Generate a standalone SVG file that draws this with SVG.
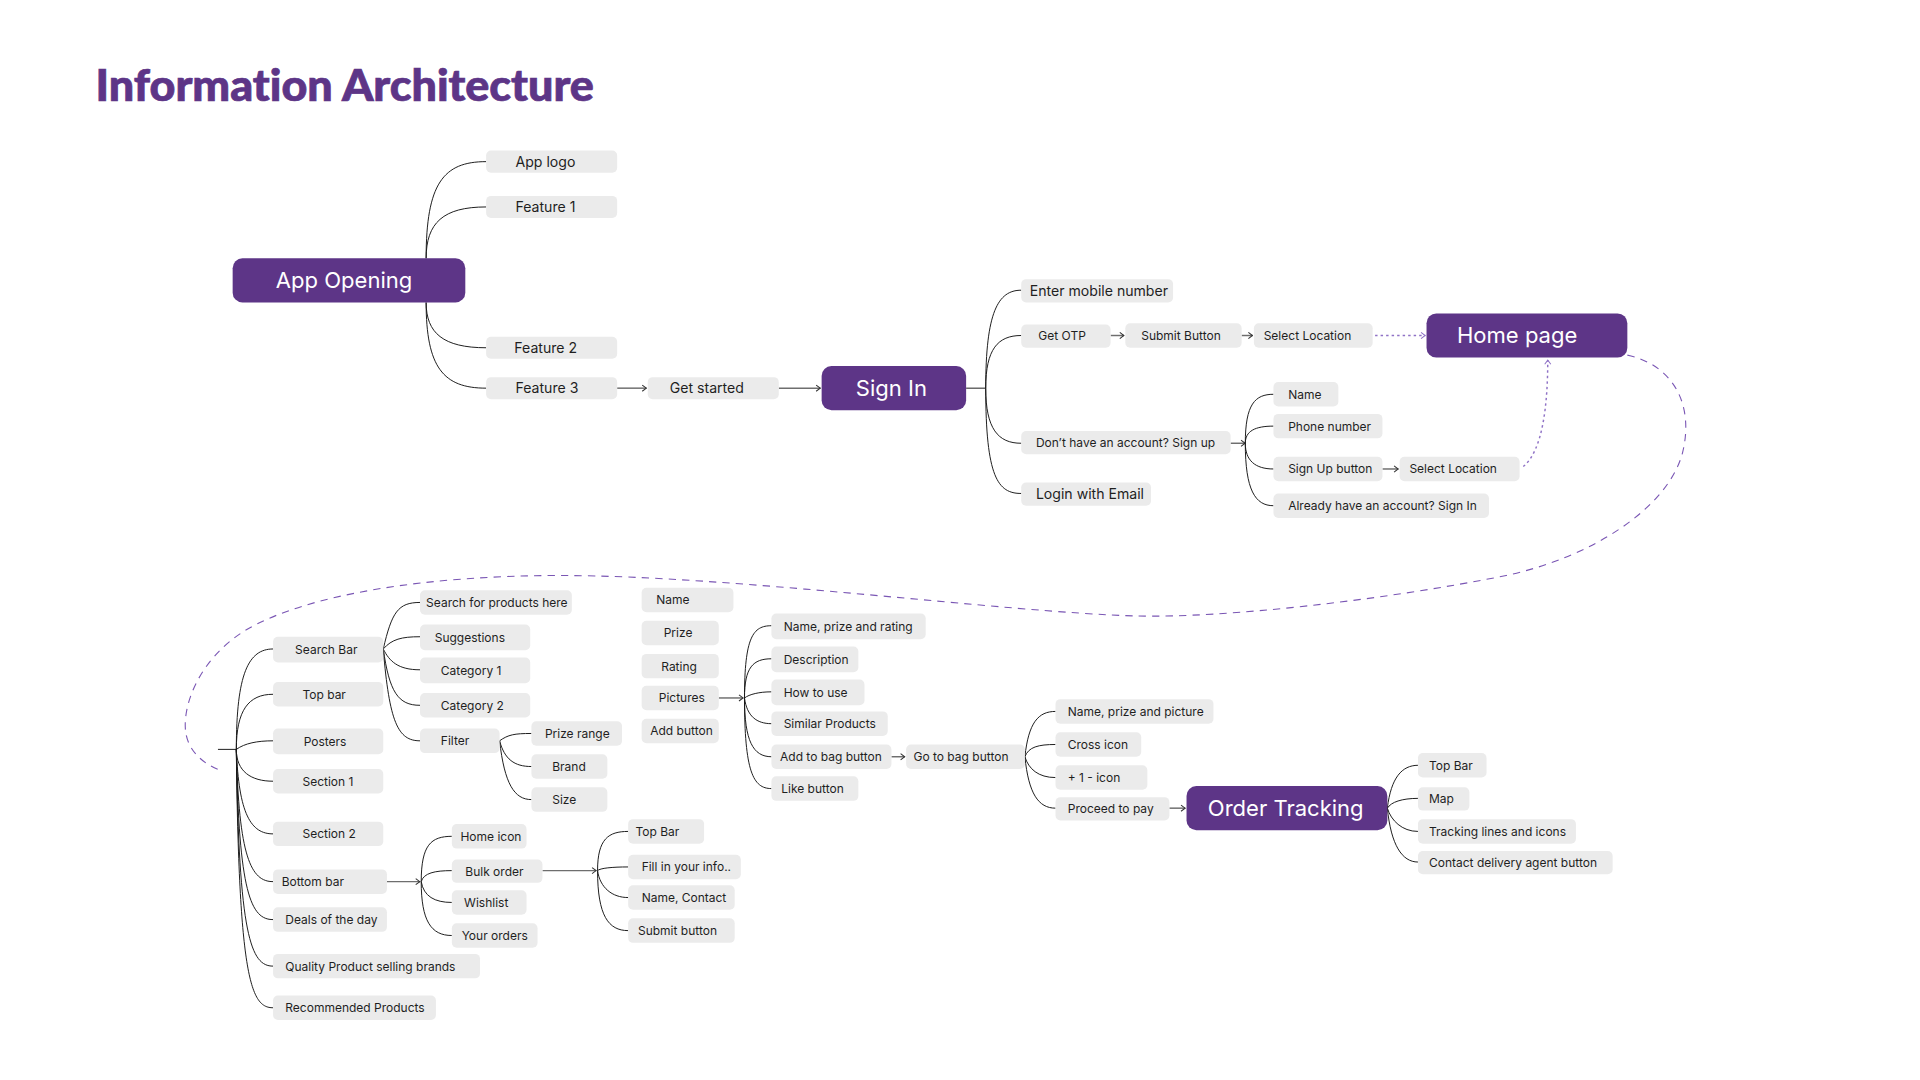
<svg xmlns="http://www.w3.org/2000/svg" width="1920" height="1080" viewBox="0 0 1920 1080">
<defs>
<style>
.n{fill:#ebebeb}
.m{fill:#5d3587}
.t{font-family:Inter,"Liberation Sans",sans-serif;font-size:9.8px;fill:#1f1f1f}
.l{font-size:11.5px}
.mt{font-family:Inter,"Liberation Sans",sans-serif;font-size:18px;fill:#ffffff;text-anchor:middle}
.c{fill:none;stroke:#1a1a1a;stroke-width:0.8}
.a{fill:none;stroke:#6e6e6e;stroke-width:1.2;marker-end:url(#ah)}
.d{fill:none;stroke:#8f72c6;stroke-width:1.2;stroke-dasharray:2 2.5;marker-end:url(#ph)}
.dd{fill:none;stroke:#7a56b4;stroke-width:0.9;stroke-dasharray:6 5}
</style>
<marker id="ah" viewBox="0 0 6 8" markerUnits="userSpaceOnUse" markerWidth="5" markerHeight="7" refX="5.2" refY="4" orient="auto">
<path d="M1,1 L5,4 L1,7" fill="none" stroke="#333" stroke-width="1"/>
</marker>
<marker id="ph" viewBox="0 0 6 8" markerUnits="userSpaceOnUse" markerWidth="5" markerHeight="7" refX="5.2" refY="4" orient="auto">
<path d="M1,1 L5,4 L1,7" fill="none" stroke="#8f72c6" stroke-width="1"/>
</marker>
</defs>
<rect width="1920" height="1080" fill="#ffffff"/>
<g transform="scale(1.22449)">
<text x="78" y="82.5" textLength="407" lengthAdjust="spacingAndGlyphs" style="font-family:Lato,'Liberation Sans',sans-serif;font-weight:900;font-size:35px;fill:#5d3587;stroke:#5d3587;stroke-width:0.6;font-variant-ligatures:none">Information Architecture</text>

<g id="connectors">
<path class="c" d="M348,211 C348,150 362,132 397,132"/>
<path class="c" d="M348,211 C348,182 362,169 397,169"/>
<path class="c" d="M348,247 C348,272 362,284 397,284"/>
<path class="c" d="M348,247 C348,300 362,317 397,317"/>
<path class="a" d="M504,317 H528"/>
<path class="a" d="M636,317 H670"/>
<path class="c" d="M789,317 H805"/>
<path class="c" d="M805,317 C805,255 815,237 834,237"/>
<path class="c" d="M805,317 C805,285 815,274 834,274"/>
<path class="c" d="M805,317 C805,350 815,362 834,362"/>
<path class="c" d="M805,317 C805,390 815,403 834,403"/>
<path class="a" d="M907,274 H918"/>
<path class="a" d="M1014,274 H1023"/>
<path class="d" d="M1123,274 H1164"/>
<path class="a" d="M1005,362 H1017"/>
<path class="c" d="M1017,362 C1017,330 1025,322 1040,322"/>
<path class="c" d="M1017,362 C1017,352 1025,348 1040,348"/>
<path class="c" d="M1017,362 C1017,376 1025,383 1040,383"/>
<path class="c" d="M1017,362 C1017,400 1025,413 1040,413"/>
<path class="a" d="M1129,383 H1142"/>
<path class="d" d="M1244,381 C1260,368 1264,330 1264,294"/>
<path class="dd" d="M1329,290 C1366,298 1384,330 1374,370 C1362,415 1300,455 1230,470 C1130,490 1000,505 927,503 C820,500 600,470 457,470 C350,470 250,485 200,515 C160,540 148,580 152,600 C155,615 168,625 180,629"/>
<path class="c" d="M178,612 H193"/>
<path class="c" d="M193,612 C193,550 203,530 223,530"/>
<path class="c" d="M193,612 C193,580 203,567 223,567"/>
<path class="c" d="M193,612 C200,607 210,605 223,605"/>
<path class="c" d="M193,612 C193,630 205,638 223,638"/>
<path class="c" d="M193,612 C195,665 205,681 223,681"/>
<path class="c" d="M193,612 C195,700 205,720 223,720"/>
<path class="c" d="M193,612 C195,730 205,751 223,751"/>
<path class="c" d="M193,612 C195,765 205,789 223,789"/>
<path class="c" d="M193,612 C195,800 205,823 223,823"/>
<path class="c" d="M313,530 C320,500 325,492 343,492"/>
<path class="c" d="M313,530 C320,522 328,520 343,520"/>
<path class="c" d="M313,530 C318,540 325,547 343,547"/>
<path class="c" d="M313,530 C318,565 325,576 343,576"/>
<path class="c" d="M313,530 C318,590 325,605 343,605"/>
<path class="c" d="M408,605 C415,600 420,599 434,599"/>
<path class="c" d="M408,605 C412,620 420,626 434,626"/>
<path class="c" d="M408,605 C412,640 420,653 434,653"/>
<path class="a" d="M587,570 H607"/>
<path class="c" d="M608,570 C608,520 615,511 630,511"/>
<path class="c" d="M608,570 C608,545 615,538 630,538"/>
<path class="c" d="M608,570 C612,567 620,565 630,565"/>
<path class="c" d="M608,570 C610,585 618,591 630,591"/>
<path class="c" d="M608,570 C608,605 615,618 630,618"/>
<path class="c" d="M608,570 C608,630 615,644 630,644"/>
<path class="a" d="M728,618 H739"/>
<path class="c" d="M837,618 C840,590 848,581 862,581"/>
<path class="c" d="M837,618 C840,610 848,608 862,608"/>
<path class="c" d="M837,618 C840,628 848,635 862,635"/>
<path class="c" d="M837,618 C840,648 848,660 862,660"/>
<path class="a" d="M955,660 H968"/>
<path class="c" d="M1133,660 C1136,635 1145,625 1158,625"/>
<path class="c" d="M1133,660 C1136,655 1145,652 1158,652"/>
<path class="c" d="M1133,660 C1136,670 1145,679 1158,679"/>
<path class="c" d="M1133,660 C1136,690 1145,704 1158,704"/>
<path class="a" d="M316,720 H343"/>
<path class="c" d="M344,720 C344,690 352,683 369,683"/>
<path class="c" d="M344,720 C346,713 355,711 369,711"/>
<path class="c" d="M344,720 C346,732 355,737 369,737"/>
<path class="c" d="M344,720 C344,752 352,764 369,764"/>
<path class="a" d="M443,711 H487"/>
<path class="c" d="M488,711 C488,685 497,679 513,679"/>
<path class="c" d="M488,711 C490,709 500,708 513,708"/>
<path class="c" d="M488,711 C490,725 500,733 513,733"/>
<path class="c" d="M488,711 C488,748 497,760 513,760"/>
</g>

<g id="app-opening"><rect class="m" x="190" y="211" width="190" height="36" rx="8"/><text class="mt" x="281" y="235.5">App Opening</text></g>
<g id="app-logo"><rect class="n" x="397" y="123" width="107" height="18" rx="4"/><text class="t l" x="421" y="136">App logo</text></g>
<g id="feature-1"><rect class="n" x="397" y="160" width="107" height="18" rx="4"/><text class="t l" x="421" y="173">Feature 1</text></g>
<g id="feature-2"><rect class="n" x="397" y="275" width="107" height="18" rx="4"/><text class="t l" x="420" y="288">Feature 2</text></g>
<g id="feature-3"><rect class="n" x="397" y="308" width="107" height="18" rx="4"/><text class="t l" x="421" y="321">Feature 3</text></g>
<g id="get-started"><rect class="n" x="529" y="308" width="107" height="18" rx="4"/><text class="t l" x="547" y="321">Get started</text></g>
<g id="sign-in"><rect class="m" x="671" y="299" width="118" height="36" rx="8"/><text class="mt" x="728" y="323.5">Sign In</text></g>
<g id="enter-mobile"><rect class="n" x="834" y="228" width="124" height="19" rx="4"/><text class="t l" x="841" y="241.6">Enter mobile number</text></g>
<g id="get-otp"><rect class="n" x="834" y="265" width="73" height="19" rx="4"/><text class="t" x="848" y="278">Get OTP</text></g>
<g id="submit-button"><rect class="n" x="919" y="264" width="95" height="20" rx="4"/><text class="t" x="932" y="277.6">Submit Button</text></g>
<g id="select-location-1"><rect class="n" x="1024" y="264" width="97" height="20" rx="4"/><text class="t" x="1032" y="277.6">Select Location</text></g>
<g id="sign-up"><rect class="n" x="834" y="352" width="171" height="19" rx="4"/><text class="t" x="846" y="365">Don’t have an account? Sign up</text></g>
<g id="login-email"><rect class="n" x="834" y="394" width="106" height="19" rx="4"/><text class="t l" x="846" y="407.6">Login with Email</text></g>
<g id="home-page"><rect class="m" x="1165" y="256" width="164" height="36" rx="8"/><text class="mt" x="1239" y="280.5">Home page</text></g>
<g id="su-name"><rect class="n" x="1040" y="312" width="53" height="20" rx="4"/><text class="t" x="1052" y="325.6">Name</text></g>
<g id="su-phone"><rect class="n" x="1040" y="338" width="89" height="20" rx="4"/><text class="t" x="1052" y="351.6">Phone number</text></g>
<g id="su-button"><rect class="n" x="1040" y="373" width="89" height="20" rx="4"/><text class="t" x="1052" y="386.6">Sign Up button</text></g>
<g id="select-location-2"><rect class="n" x="1143" y="373" width="98" height="20" rx="4"/><text class="t" x="1151" y="386.6">Select Location</text></g>
<g id="su-already"><rect class="n" x="1040" y="403" width="176" height="20" rx="4"/><text class="t" x="1052" y="416.6">Already have an account? Sign In</text></g>

<g id="search-bar"><rect class="n" x="223" y="520" width="90" height="21" rx="4"/><text class="t" x="241" y="534">Search Bar</text></g>
<g id="top-bar"><rect class="n" x="223" y="557" width="90" height="20" rx="4"/><text class="t" x="247" y="570.6">Top bar</text></g>
<g id="posters"><rect class="n" x="223" y="595" width="90" height="21" rx="4"/><text class="t" x="248" y="609">Posters</text></g>
<g id="section-1"><rect class="n" x="223" y="628" width="90" height="20" rx="4"/><text class="t" x="247" y="641.6">Section 1</text></g>
<g id="section-2"><rect class="n" x="223" y="671" width="90" height="20" rx="4"/><text class="t" x="247" y="684.6">Section 2</text></g>
<g id="bottom-bar"><rect class="n" x="223" y="710" width="93" height="20" rx="4"/><text class="t" x="230" y="723.6">Bottom bar</text></g>
<g id="deals"><rect class="n" x="223" y="741" width="93" height="20" rx="4"/><text class="t" x="233" y="754.6">Deals of the day</text></g>
<g id="quality"><rect class="n" x="223" y="779" width="169" height="20" rx="4"/><text class="t" x="233" y="792.6">Quality Product selling brands</text></g>
<g id="recommended"><rect class="n" x="223" y="813" width="133" height="20" rx="4"/><text class="t" x="233" y="826.6">Recommended Products</text></g>

<g id="search-products"><rect class="n" x="343" y="482" width="124" height="20" rx="4"/><text class="t" x="348" y="495.6">Search for products here</text></g>
<g id="suggestions"><rect class="n" x="343" y="510" width="90" height="21" rx="4"/><text class="t" x="355" y="524">Suggestions</text></g>
<g id="category-1"><rect class="n" x="343" y="537" width="90" height="21" rx="4"/><text class="t" x="360" y="551">Category 1</text></g>
<g id="category-2"><rect class="n" x="343" y="566" width="90" height="20" rx="4"/><text class="t" x="360" y="579.6">Category 2</text></g>
<g id="filter"><rect class="n" x="343" y="595" width="65" height="20" rx="4"/><text class="t" x="360" y="608.6">Filter</text></g>
<g id="prize-range"><rect class="n" x="434" y="589" width="74" height="20" rx="4"/><text class="t" x="445" y="602.6">Prize range</text></g>
<g id="brand"><rect class="n" x="434" y="616" width="62" height="20" rx="4"/><text class="t" x="451" y="629.6">Brand</text></g>
<g id="size"><rect class="n" x="434" y="643" width="62" height="20" rx="4"/><text class="t" x="451" y="656.6">Size</text></g>

<g id="p-name"><rect class="n" x="524" y="480" width="75" height="20" rx="4"/><text class="t" x="536" y="493.6">Name</text></g>
<g id="p-prize"><rect class="n" x="524" y="507" width="63" height="20" rx="4"/><text class="t" x="542" y="520.6">Prize</text></g>
<g id="p-rating"><rect class="n" x="524" y="534" width="63" height="20" rx="4"/><text class="t" x="540" y="547.6">Rating</text></g>
<g id="p-pictures"><rect class="n" x="524" y="560" width="63" height="20" rx="4"/><text class="t" x="538" y="573.6">Pictures</text></g>
<g id="p-add"><rect class="n" x="524" y="587" width="63" height="20" rx="4"/><text class="t" x="531" y="600.6">Add button</text></g>

<g id="npr"><rect class="n" x="630" y="501" width="126" height="21" rx="4"/><text class="t" x="640" y="515">Name, prize and rating</text></g>
<g id="description"><rect class="n" x="630" y="528" width="71" height="21" rx="4"/><text class="t" x="640" y="542">Description</text></g>
<g id="how-to-use"><rect class="n" x="630" y="555" width="76" height="21" rx="4"/><text class="t" x="640" y="569">How to use</text></g>
<g id="similar"><rect class="n" x="630" y="581" width="95" height="20" rx="4"/><text class="t" x="640" y="594.6">Similar Products</text></g>
<g id="add-to-bag"><rect class="n" x="630" y="608" width="98" height="20" rx="4"/><text class="t" x="637" y="621.6">Add to bag button</text></g>
<g id="go-to-bag"><rect class="n" x="740" y="608" width="97" height="20" rx="4"/><text class="t" x="746" y="621.6">Go to bag button</text></g>
<g id="like"><rect class="n" x="630" y="634" width="71" height="20" rx="4"/><text class="t" x="638" y="647.6">Like button</text></g>

<g id="npp"><rect class="n" x="862" y="571" width="129" height="20" rx="4"/><text class="t" x="872" y="584.6">Name, prize and picture</text></g>
<g id="cross"><rect class="n" x="862" y="598" width="70" height="20" rx="4"/><text class="t" x="872" y="611.6">Cross icon</text></g>
<g id="plus-one"><rect class="n" x="862" y="625" width="75" height="20" rx="4"/><text class="t" x="872" y="638.6">+ 1 - icon</text></g>
<g id="proceed"><rect class="n" x="862" y="651" width="93" height="19" rx="4"/><text class="t" x="872" y="664">Proceed to pay</text></g>
<g id="order-tracking"><rect class="m" x="969" y="642" width="164" height="36" rx="8"/><text class="mt" x="1050" y="666.5">Order Tracking</text></g>
<g id="ot-top-bar"><rect class="n" x="1158" y="615" width="56" height="20" rx="4"/><text class="t" x="1167" y="628.6">Top Bar</text></g>
<g id="ot-map"><rect class="n" x="1158" y="643" width="42" height="19" rx="4"/><text class="t" x="1167" y="656">Map</text></g>
<g id="ot-tracking"><rect class="n" x="1158" y="669" width="129" height="20" rx="4"/><text class="t" x="1167" y="682.6">Tracking lines and icons</text></g>
<g id="ot-contact"><rect class="n" x="1158" y="695" width="159" height="19" rx="4"/><text class="t" x="1167" y="708">Contact delivery agent button</text></g>

<g id="home-icon"><rect class="n" x="369" y="673" width="61" height="20" rx="4"/><text class="t" x="376" y="686.6">Home icon</text></g>
<g id="bulk-order"><rect class="n" x="369" y="702" width="74" height="19" rx="4"/><text class="t" x="380" y="715">Bulk order</text></g>
<g id="wishlist"><rect class="n" x="369" y="727" width="61" height="20" rx="4"/><text class="t" x="379" y="740.6">Wishlist</text></g>
<g id="your-orders"><rect class="n" x="369" y="754" width="70" height="20" rx="4"/><text class="t" x="377" y="767.6">Your orders</text></g>
<g id="bo-top-bar"><rect class="n" x="513" y="669" width="62" height="20" rx="4"/><text class="t" x="519" y="682.6">Top Bar</text></g>
<g id="bo-fill"><rect class="n" x="513" y="698" width="92" height="20" rx="4"/><text class="t" x="524" y="711.6">Fill in your info..</text></g>
<g id="bo-name-contact"><rect class="n" x="513" y="723" width="87" height="20" rx="4"/><text class="t" x="524" y="736.6">Name, Contact</text></g>
<g id="bo-submit"><rect class="n" x="513" y="750" width="87" height="20" rx="4"/><text class="t" x="521" y="763.6">Submit button</text></g>
</g>
</svg>
